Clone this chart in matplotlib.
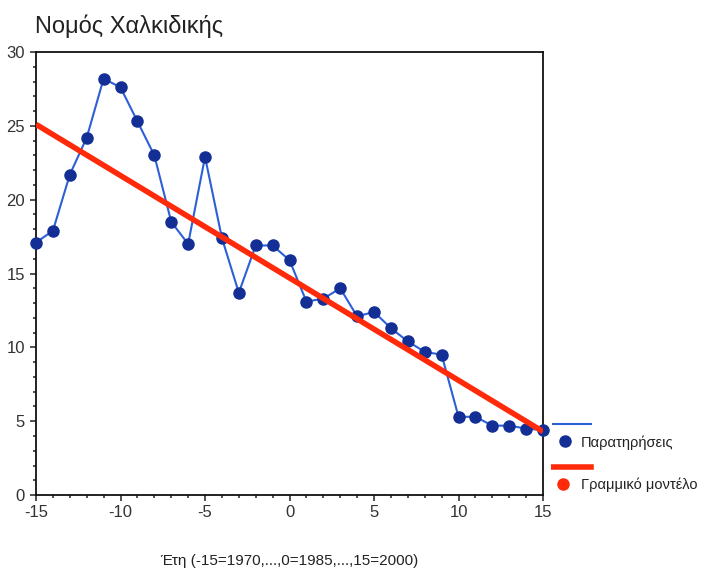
import numpy as np
import matplotlib
matplotlib.use("Agg")
import matplotlib.pyplot as plt
from matplotlib.ticker import MultipleLocator

plt.rcParams['font.family'] = ['Liberation Sans', 'DejaVu Sans']
plt.rcParams['axes.unicode_minus'] = False

# observations (years coded -15=1970 ... 15=2000)
years = list(range(-15, 16))
values = [17.1, 17.9, 21.7, 24.2, 28.2, 27.6, 25.3, 23.0, 18.5, 17.0,
          22.9, 17.4, 13.7, 16.9, 16.9, 15.9, 13.1, 13.3, 14.0, 12.1,
          12.4, 11.3, 10.4, 9.7, 9.5, 5.3, 5.3, 4.7, 4.7, 4.5, 4.4]

# linear model end points
model_x = [-15, 15]
model_y = [25.1, 4.3]

labels = ['Παρατηρήσεις', 'Γραμμικό μοντέλο']
obs_line = '#2d5fd6'
obs_dot = '#132f96'
model_col = '#ff2a0a'

fig = plt.figure(figsize=(7.25, 5.75), dpi=100)
ax = fig.add_axes([0.0497, 0.139, 0.6993, 0.7706])

ax.plot(years, values, color=obs_line, lw=1.5, zorder=2)
ax.plot(years, values, 'o', color=obs_dot, ms=8, zorder=3, clip_on=False)
ax.plot(model_x, model_y, color=model_col, lw=4, zorder=4, solid_capstyle='butt')

ax.set_xlim(-15, 15)
ax.set_ylim(0, 30)
ax.xaxis.set_major_locator(MultipleLocator(5))
ax.xaxis.set_minor_locator(MultipleLocator(1))
ax.yaxis.set_major_locator(MultipleLocator(5))
ax.yaxis.set_minor_locator(MultipleLocator(1))
ax.tick_params(which='both', direction='out', colors='#333333', labelsize=12, width=1.2)
ax.tick_params(which='major', length=4)
ax.tick_params(which='minor', length=2.5)
ax.tick_params(axis='y', pad=4)
for s in ax.spines.values():
    s.set_linewidth(1.3)
    s.set_color('#111111')

ax.set_xlabel('Έτη (-15=1970,...,0=1985,...,15=2000)', fontsize=11, labelpad=24, color='#222222')
fig.text(0.048, 0.955, 'Νομός Χαλκιδικής', fontsize=17, color='#222222', va='center')

# legend drawn by hand: line on one row, dot + label on the next
leg = fig.add_axes([0.76, 0.13, 0.24, 0.15])
leg.set_xlim(0, 1)
leg.set_ylim(0, 1)
leg.axis('off')
leg.plot([0.01, 0.23], [0.88, 0.88], color=obs_line, lw=1.5)
leg.plot([0.08], [0.69], 'o', color=obs_dot, ms=8)
leg.text(0.17, 0.67, labels[0], fontsize=10.5, va='center', color='#222222')
leg.plot([0.01, 0.23], [0.39, 0.39], color=model_col, lw=4)
leg.plot([0.07], [0.19], 'o', color=model_col, ms=8)
leg.text(0.17, 0.18, labels[1], fontsize=10.5, va='center', color='#222222')

fig.savefig('out.png', dpi=100)
